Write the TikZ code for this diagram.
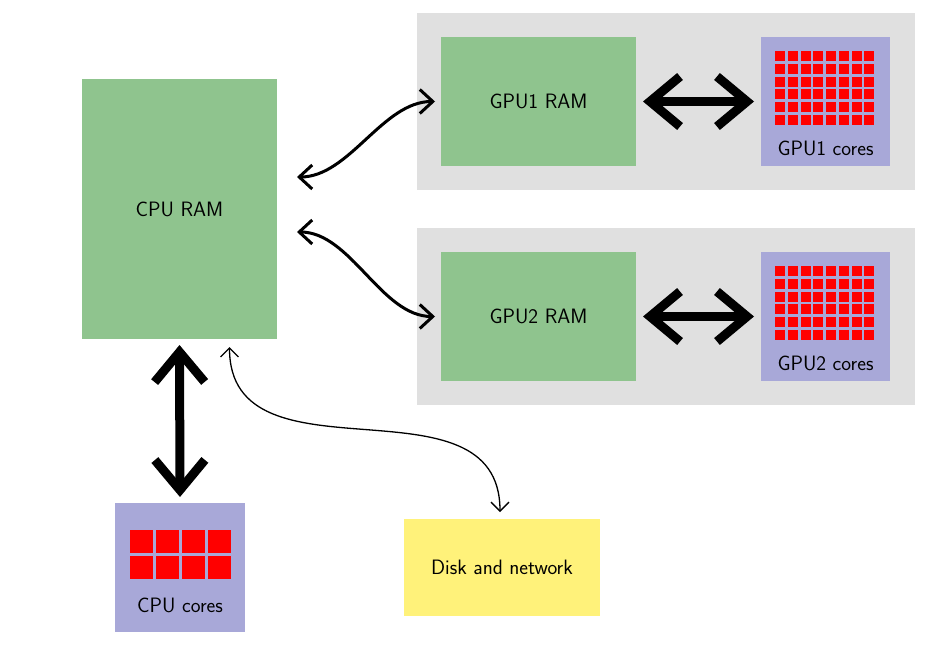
\documentclass[tikz,border=0pt]{standalone}
\usetikzlibrary{arrows.meta}
\definecolor{ramgreen}{RGB}{143,196,142}
\definecolor{boxgray}{RGB}{224,224,224}
\definecolor{coreblue}{RGB}{168,168,216}
\definecolor{corered}{RGB}{255,0,0}
\definecolor{diskyellow}{RGB}{255,242,122}
\begin{document}
\begin{tikzpicture}[x=1pt,y=-1pt,
  every node/.style={inner sep=0pt, outer sep=0pt, font=\fontsize{20.8}{25}\selectfont\sffamily},
  graybox/.style={fill=boxgray, minimum width=498pt, minimum height=177pt},
  rambox/.style={fill=ramgreen},
  corebox/.style={fill=coreblue, minimum width=129pt, minimum height=129pt},
  diskbox/.style={fill=diskyellow, minimum width=196pt, minimum height=97pt},
  bigarrow/.style={line width=9pt, {Straight Barb[length=30pt,width=50pt]}-{Straight Barb[length=30pt,width=50pt]}},
  midarrow/.style={line width=3pt, {Straight Barb[length=13pt,width=24pt]}-{Straight Barb[length=13pt,width=24pt]}},
  thinarrow/.style={line width=1.3pt, {Straight Barb[length=9pt,width=18pt]}-{Straight Barb[length=9pt,width=18pt]}},
  coresq/.style={fill=corered}
]
\useasboundingbox (0,0) rectangle (933,656);
% gray GPU enclosures
\node[graybox] (gray1) at (666,101.5) {};
\node[graybox] (gray2) at (666,316.5) {};
% RAM boxes
\node[rambox, minimum width=195pt, minimum height=260pt] (cpuram) at (179.5,209) {CPU RAM};
\node[rambox, minimum width=195pt, minimum height=129pt] (g1ram) at (538.5,101.5) {GPU1 RAM};
\node[rambox, minimum width=195pt, minimum height=129pt] (g2ram) at (538.5,316.5) {GPU2 RAM};
% core boxes
\node[corebox] (g1cores) at (825.5,101.5) {};
\node[corebox] (g2cores) at (825.5,316.5) {};
\node[corebox, minimum width=130pt] (cpucores) at (180,567.5) {};
\node (g1coreslabel) at (825.5,148) {GPU1 cores};
\node (g2coreslabel) at (825.5,363) {GPU2 cores};
\node (cpucoreslabel) at (180,605) {CPU cores};
% core grids
\foreach \i in {0,...,7}{
  \foreach \j in {0,...,5}{
    \fill[coresq] (775+\i*12.75,51+\j*12.75) rectangle ++(10,10);
    \fill[coresq] (775+\i*12.75,266+\j*12.75) rectangle ++(10,10);
  }
}
\foreach \i in {0,...,3}{
  \foreach \j in {0,1}{
    \fill[coresq] (130+\i*26,530+\j*26) rectangle ++(23,23);
  }
}
% disk
\node[diskbox] (disk) at (502,567.5) {Disk and network};
% connectors
\draw[bigarrow, shorten <=6pt, shorten >=6pt] (cpuram.south) -- (cpucores.north);
\draw[bigarrow, shorten <=7pt, shorten >=7pt] (g1ram.east) -- (g1cores.west);
\draw[bigarrow, shorten <=7pt, shorten >=7pt] (g2ram.east) -- (g2cores.west);
\draw[midarrow] ([xshift=20pt,yshift=32pt]cpuram.east) to[out=0,in=180,looseness=0.85] ([xshift=-6pt]g1ram.west);
\draw[midarrow] ([xshift=20pt,yshift=-23pt]cpuram.east) to[out=0,in=180,looseness=0.85] ([xshift=-6pt]g2ram.west);
\draw[thinarrow] ([xshift=50pt,yshift=-8pt]cpuram.south) to[out=-90,in=90,looseness=1.15] ([xshift=-2pt,yshift=7pt]disk.north);
\end{tikzpicture}
\end{document}
